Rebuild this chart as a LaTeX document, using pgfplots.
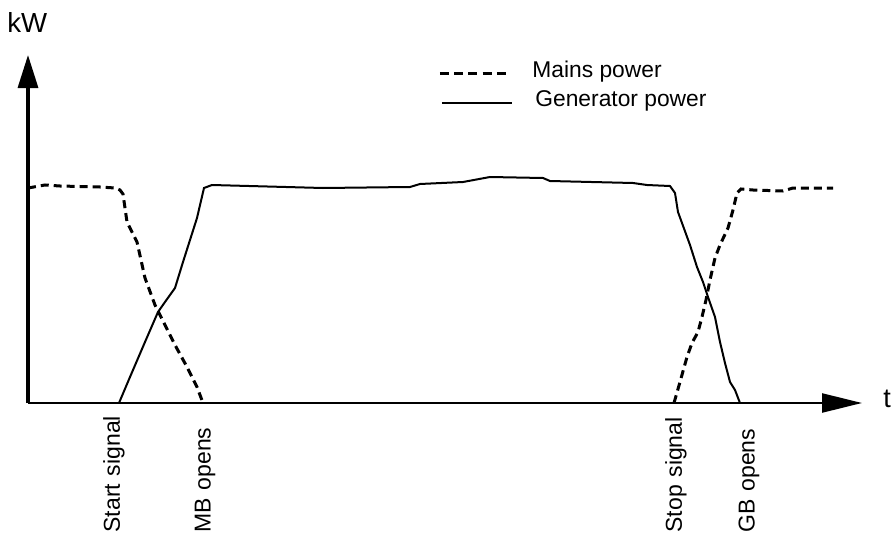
\documentclass[border=0pt]{standalone}
\usepackage{fontspec}
\setmainfont{Liberation Sans}
\usepackage{pgfplots}
\pgfplotsset{compat=1.18}
\usetikzlibrary{arrows.meta}
\begin{document}
\begin{tikzpicture}
\begin{axis}[
  x=0.5pt, y=0.5pt,
  xmin=0, xmax=834, ymin=0, ymax=348,
  axis lines=left,
  clip=false,
  x axis line style={line width=1.2pt, -{Triangle[length=20pt,width=9.5pt]}},
  y axis line style={line width=1.6pt, -{Triangle[length=16.5pt,width=10pt]}},
  ytick=\empty,
  xtick={86,177,648,721},
  xticklabels={Start signal, MB opens, Stop signal, GB opens},
  major tick length=0pt,
  tick style={draw=none},
  xticklabel style={rotate=90, anchor=east, inner xsep=2pt, inner ysep=0pt,
    text width=62.5pt, align=left, font=\fontsize{11.5}{13}\selectfont},
  unbounded coords=jump,
]
% bounding box of the whole picture
\path (axis cs:-28,-132) rectangle (axis cs:863,403);

% Mains power (dashed)
\addplot[black, line width=1.5pt, dash pattern=on 4pt off 2.5pt] coordinates {
(0,215) (17,218) (32,217) (72,216) (87,215) (92,213) (95,209) (99,181)
(109,161) (117,125) (127,98) (137,78) (147,58) (159,36) (169,16) (175,0)
(nan,nan)
(646,0) (652,21) (659,46) (664,60) (670,71) (674,86) (678,103) (682,123)
(687,145) (692,158) (700,175) (705,193) (709,210) (713,214) (725,213)
(755,212) (765,215) (805,215)
};

% Generator power (solid)
\addplot[black, line width=1pt] coordinates {
(91,0) (102,26) (117,61) (130,91) (137,101) (147,115) (155,141) (162,163)
(169,185) (176,215) (184,218) (295,215) (382,216) (392,219) (435,221)
(462,226) (515,225) (522,222) (605,220) (619,218) (642,217) (647,210)
(650,191) (662,158) (669,136) (675,121) (680,106) (687,86) (692,61)
(697,40) (702,21) (707,13) (712,0)
};

% legend
\draw[black, line width=1.5pt, dash pattern=on 4.5pt off 2.6pt] (axis cs:412,330) -- (axis cs:482,330);
\draw[black, line width=1pt] (axis cs:414,300) -- (axis cs:484,300);
\node[anchor=west, inner sep=0pt, font=\fontsize{11.4}{13}\selectfont] at (axis cs:504,331) {Mains power};
\node[anchor=west, inner sep=0pt, font=\fontsize{11.4}{13}\selectfont] at (axis cs:507,302) {Generator power};

% axis labels
\node[anchor=base west, inner sep=0pt, font=\fontsize{13.8}{15}\selectfont] at (axis cs:-21,371) {kW};
\node[anchor=base west, inner sep=0pt, font=\fontsize{13.5}{15}\selectfont] at (axis cs:855,-4) {t};
\end{axis}
\end{tikzpicture}
\end{document}
